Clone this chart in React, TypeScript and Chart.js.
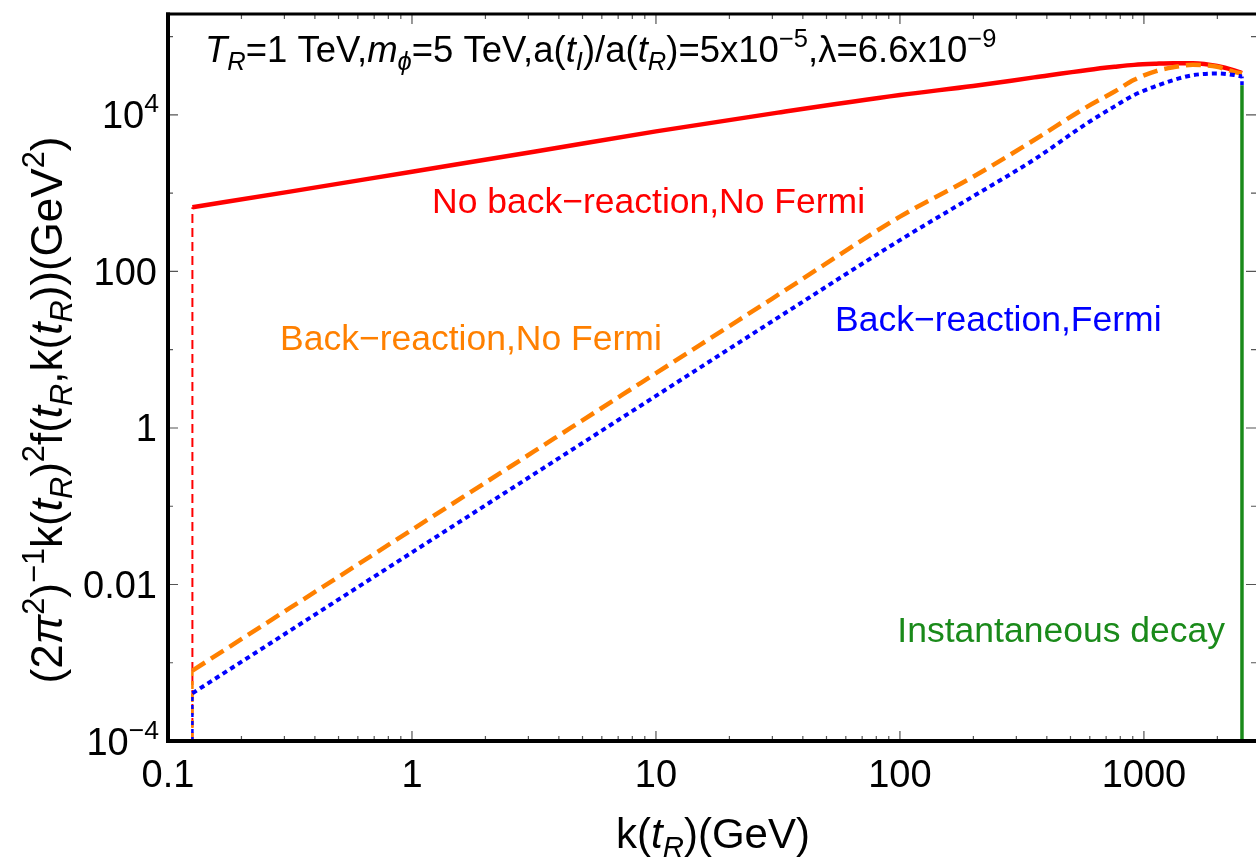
import React, { useEffect, useRef } from "react";
import { Chart, registerables } from "chart.js";

Chart.register(...registerables);

// ---- data ----
const kGrid = [0.1259, 0.3162, 1, 3.162, 10, 31.62, 100, 199.5, 354.8, 588.8, 758.6, 912.0, 1122, 1318, 1585, 1995, 2344, 2523];
const noBackReaction = [660.7, 1047, 1884, 3388, 6166, 10715, 17989, 23442, 30200, 37584, 41210, 43652, 45186, 45920, 45709, 42170, 37154, 34277];
const backReactionNoFermi = [0.000794, 0.005012, 0.05012, 0.5012, 5.012, 50.12, 501.2, 1622, 4786, 12882, 19953, 28184, 36308, 40738, 43652, 41210, 35481, 33884];
const backReactionFermi = [0.000407, 0.00257, 0.0257, 0.257, 2.57, 25.7, 251.2, 912.0, 2692, 7943, 12882, 17989, 23442, 27861, 32211, 33884, 32359, 30903];

const kStart = 0.1259;
const kDecay = 2523;
const yFloor = 1e-4;
const redStartTop = 660.7;
const orangeStartTop = 0.000794;
const blueStartTop = 0.000407;
const blueEndTop = 30903;
const greenTop = 23988;

const xMin = 0.1;
const xMax = 2880;
const yMin = 1e-4;
const yMax = 1.95e5;

const xMajorTicks = [0.1, 1, 10, 100, 1000];
const xTickLabels = ["0.1", "1", "10", "100", "1000"];
const yMajorTicks = [1e-4, 0.01, 1, 100, 1e4];
const yTickLabels: (string | { base: string; sup: string })[] = [
  { base: "10", sup: "−4" },
  "0.01",
  "1",
  "100",
  { base: "10", sup: "4" },
];
const yMinorTicks = [1e-3, 0.1, 10, 1000, 1e5];

const FONT = '"Liberation Sans", Arial, Helvetica, sans-serif';

type Seg = { t: string; it?: boolean; sup?: boolean; sub?: boolean };

function segFont(s: Seg, size: number) {
  const sz = s.sup || s.sub ? size * 0.7 : size;
  return `${s.it ? "italic " : ""}${sz}px ${FONT}`;
}
function richWidth(ctx: CanvasRenderingContext2D, segs: Seg[], size: number) {
  let w = 0;
  for (const s of segs) {
    ctx.font = segFont(s, size);
    w += ctx.measureText(s.t).width;
  }
  return w;
}
function drawRich(
  ctx: CanvasRenderingContext2D,
  segs: Seg[],
  x: number,
  y: number,
  size: number,
  color: string,
  align: "left" | "center" | "right"
) {
  const w = richWidth(ctx, segs, size);
  let cx = align === "center" ? x - w / 2 : align === "right" ? x - w : x;
  ctx.fillStyle = color;
  ctx.textAlign = "left";
  ctx.textBaseline = "alphabetic";
  for (const s of segs) {
    ctx.font = segFont(s, size);
    const dy = s.sub ? size * 0.22 : s.sup ? -size * 0.42 : 0;
    ctx.fillText(s.t, cx, y + dy);
    cx += ctx.measureText(s.t).width;
  }
}

const topNote: Seg[] = [
  { t: "T", it: true }, { t: "R", it: true, sub: true },
  { t: "=1 TeV," }, { t: "m", it: true }, { t: "ϕ", it: true, sub: true },
  { t: "=5 TeV,a(" }, { t: "t", it: true }, { t: "I", it: true, sub: true },
  { t: ")/a(" }, { t: "t", it: true }, { t: "R", it: true, sub: true },
  { t: ")=5x10" }, { t: "−5", sup: true }, { t: ",λ=6.6x10" }, { t: "−9", sup: true },
];
const xTitle: Seg[] = [
  { t: "k(" }, { t: "t", it: true }, { t: "R", it: true, sub: true }, { t: ")(GeV)" },
];
const yTitle: Seg[] = [
  { t: "(2" }, { t: "π", it: true }, { t: "2", sup: true }, { t: ")" }, { t: "−1", sup: true },
  { t: "k(" }, { t: "t", it: true }, { t: "R", it: true, sub: true }, { t: ")" }, { t: "2", sup: true },
  { t: "f(" }, { t: "t", it: true }, { t: "R", it: true, sub: true }, { t: ",k(" },
  { t: "t", it: true }, { t: "R", it: true, sub: true }, { t: "))(GeV" }, { t: "2", sup: true }, { t: ")" },
];

const framePlugin = {
  id: "framePlugin",
  afterDraw(chart: any) {
    const ctx: CanvasRenderingContext2D = chart.ctx;
    const xs = chart.scales.x;
    const ys = chart.scales.y;
    const { left, right, top, bottom } = chart.chartArea;
    ctx.save();

    // ticks (inward)
    ctx.strokeStyle = "#555";
    ctx.lineWidth = 1.2;
    const xt = (v: number, len: number) => {
      const px = xs.getPixelForValue(v);
      ctx.beginPath();
      ctx.moveTo(px, bottom);
      ctx.lineTo(px, bottom - len);
      ctx.moveTo(px, top);
      ctx.lineTo(px, top + len);
      ctx.stroke();
    };
    for (const d of [0.1, 1, 10, 100, 1000]) {
      for (let m = 2; m <= 9; m++) {
        const v = d * m;
        if (v < xMax) xt(v, 5);
      }
    }
    xMajorTicks.forEach((v) => xt(v, 10));
    const yt = (v: number, len: number) => {
      const py = ys.getPixelForValue(v);
      ctx.beginPath();
      ctx.moveTo(left, py);
      ctx.lineTo(left + len, py);
      ctx.moveTo(right, py);
      ctx.lineTo(right - len, py);
      ctx.stroke();
    };
    yMajorTicks.forEach((v) => yt(v, 10));
    yMinorTicks.forEach((v) => yt(v, 5));

    // frame
    ctx.strokeStyle = "#000";
    ctx.lineWidth = 3;
    ctx.beginPath();
    ctx.moveTo(left - 2, top);
    ctx.lineTo(right + 2, top);
    ctx.stroke();
    ctx.lineWidth = 4;
    ctx.beginPath();
    ctx.moveTo(left, top - 1.5);
    ctx.lineTo(left, bottom);
    ctx.lineTo(right + 2, bottom);
    ctx.stroke();

    // tick labels
    const tickSize = 38;
    xMajorTicks.forEach((v, i) => {
      const px = xs.getPixelForValue(v);
      drawRich(ctx, [{ t: xTickLabels[i] }], px, 787, tickSize, "#000", "center");
    });
    yMajorTicks.forEach((v, i) => {
      const py = ys.getPixelForValue(v);
      const lab = yTickLabels[i];
      if (typeof lab === "string") {
        drawRich(ctx, [{ t: lab }], 157, py + 13.5, tickSize, "#000", "right");
      } else {
        drawRich(ctx, [{ t: lab.base }, { t: lab.sup, sup: true }], 159, py + 13.5, tickSize, "#000", "right");
      }
    });

    // axis titles
    drawRich(ctx, xTitle, 713, 848, 42, "#000", "center");
    ctx.save();
    ctx.translate(62, 410);
    ctx.rotate(-Math.PI / 2);
    drawRich(ctx, yTitle, 0, 0, 44, "#000", "center");
    ctx.restore();

    // annotations
    drawRich(ctx, topNote, 205, 62, 36.5, "#000", "left");
    drawRich(ctx, [{ t: "No back−reaction,No Fermi" }], 432, 213, 35.5, "#ff0000", "left");
    drawRich(ctx, [{ t: "Back−reaction,No Fermi" }], 280, 350, 35.5, "#ff8000", "left");
    drawRich(ctx, [{ t: "Back−reaction,Fermi" }], 835, 331, 35.5, "#0000ff", "left");
    drawRich(ctx, [{ t: "Instantaneous decay" }], 1225, 642, 35.5, "#1a8a1a", "right");

    ctx.restore();
  },
};

export default function App() {
  const ref = useRef<HTMLCanvasElement | null>(null);
  useEffect(() => {
    if (!ref.current) return;
    const pts = (ys: number[]) => kGrid.map((k, i) => ({ x: k, y: ys[i] }));
    const chart = new Chart(ref.current, {
      type: "line",
      data: {
        datasets: [
          {
            label: "Back-reaction,Fermi",
            data: pts(backReactionFermi),
            borderColor: "#0000ff",
            borderWidth: 4,
            borderDash: [5, 4],
            cubicInterpolationMode: "monotone",
            order: 1,
          },
          {
            label: "Back-reaction,No Fermi",
            data: pts(backReactionNoFermi),
            borderColor: "#ff8000",
            borderWidth: 4.5,
            borderDash: [15, 7],
            cubicInterpolationMode: "monotone",
            order: 2,
          },
          {
            label: "No back-reaction,No Fermi",
            data: pts(noBackReaction),
            borderColor: "#ff0000",
            borderWidth: 4.5,
            cubicInterpolationMode: "monotone",
            order: 3,
          },
          {
            label: "red start",
            data: [{ x: kStart, y: yFloor }, { x: kStart, y: redStartTop }],
            borderColor: "#ff0000",
            borderWidth: 2,
            borderDash: [9, 5],
            order: 4,
          },
          {
            label: "orange start",
            data: [{ x: kStart, y: yFloor }, { x: kStart, y: orangeStartTop }],
            borderColor: "#ff8000",
            borderWidth: 2.5,
            borderDash: [8, 5],
            order: 3.5,
          },
          {
            label: "blue start",
            data: [{ x: kStart, y: yFloor }, { x: kStart, y: blueStartTop }],
            borderColor: "#0000ff",
            borderWidth: 2.5,
            borderDash: [4, 4],
            order: 3.4,
          },
          {
            label: "blue end",
            data: [{ x: kDecay, y: greenTop }, { x: kDecay, y: blueEndTop }],
            borderColor: "#0000ff",
            borderWidth: 3.5,
            borderDash: [4, 3],
            order: 0.5,
          },
          {
            label: "Instantaneous decay",
            data: [{ x: kDecay, y: yFloor }, { x: kDecay, y: greenTop }],
            borderColor: "#1a8a1a",
            borderWidth: 3.5,
            order: 0,
          },
        ],
      },
      options: {
        animation: false,
        responsive: false,
        maintainAspectRatio: false,
        layout: { padding: { left: 168, top: 14, right: 0, bottom: 118 } },
        elements: { point: { radius: 0 } },
        scales: {
          x: { type: "logarithmic", min: xMin, max: xMax, display: false },
          y: { type: "logarithmic", min: yMin, max: yMax, display: false },
        },
        plugins: { legend: { display: false }, tooltip: { enabled: false } },
      },
      plugins: [framePlugin],
    } as any);
    return () => chart.destroy();
  }, []);
  return (
    <div style={{ position: "fixed", left: 0, top: 0, width: 1256, height: 859, background: "#fff" }}>
      <canvas ref={ref} width={1256} height={859} style={{ display: "block" }} />
    </div>
  );
}
